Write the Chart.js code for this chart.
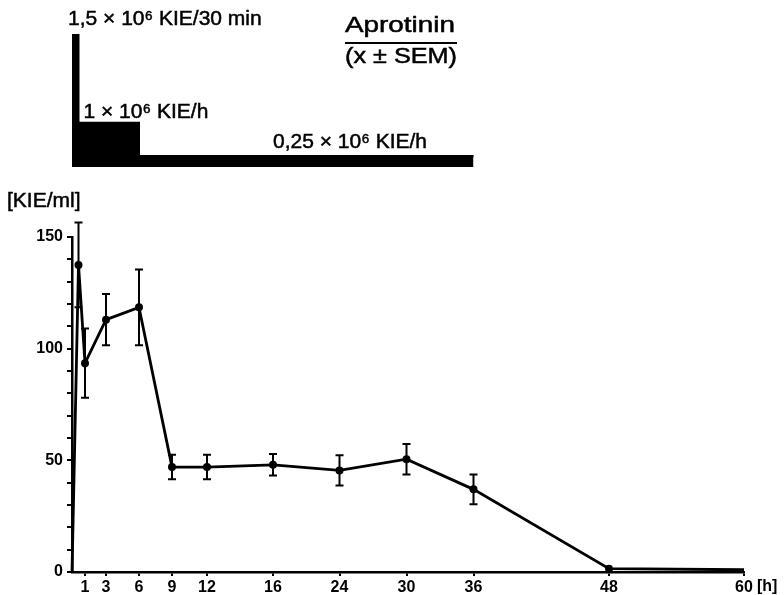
<!DOCTYPE html>
<html>
<head>
<meta charset="utf-8">
<script src="https://cdn.jsdelivr.net/npm/chart.js@4/dist/chart.umd.min.js"></script>
<style>
body { margin: 0; background: #fff; }
#wrap { position: relative; width: 784px; height: 595px; }
canvas { position: absolute; left: 0; top: 0; }
</style>
</head>
<body>
<div id="wrap">
  <canvas id="dose" width="784" height="595"></canvas>
  <canvas id="level" width="784" height="595"></canvas>
</div>
<script>
// plasma level (KIE/ml, mean +- SEM) over time in hours
const HOURS = [0, 0.5, 1, 3, 6, 9, 12, 16, 24, 30, 36, 48, 60];
const KIE_ML = [0, 137.5, 93.5, 113, 118.5, 47, 47, 48, 45.5, 50.5, 37, 1.5, 1];
const SEM = [0, 19, 15.5, 11.5, 17, 5.5, 5.5, 4.8, 6.8, 6.8, 6.7, 0, 0];
const X_TICKS = [1, 3, 6, 9, 12, 16, 24, 30, 36, 48, 60];

// dosing schedule: rate (10^6 KIE/h) starting at each hour, last point = end
const DOSE_START = [0, 0.5, 6, 36];
const DOSE_RATE = [3, 1, 0.25, 0.25];
const DOSE_LABELS = ['1,5 × 10⁶ KIE/30 min', '1 × 10⁶ KIE/h', '0,25 × 10⁶ KIE/h'];

// the printed time axis is not linear: relative spacing of its ticks
const AXIS_HOURS = [0, 1, 3, 6, 9, 12, 16, 24, 30, 36, 48, 60];
const AXIS_POS = [0, 13, 34, 67, 100, 135, 201, 267.5, 334.5, 401.5, 537, 672];

const TEXT_FONT = '"Liberation Sans", Arial, sans-serif';
const TICK_FONT = { family: '"Liberation Sans", Arial, sans-serif', size: 16, weight: 'bold' };

class PiecewiseScale extends Chart.LinearScale {
    static id = 'piecewise';
    static defaults = {};

    getPixelForValue(value) {
        if (value === null || isNaN(value)) return NaN;
        const hs = this.options.breaks, ps = this.options.positions;
        let i = 1;
        while (i < hs.length - 1 && value > hs[i]) i++;
        const t = (value - hs[i - 1]) / (hs[i] - hs[i - 1]);
        const p = ps[i - 1] + t * (ps[i] - ps[i - 1]);
        return this.getPixelForDecimal(p / ps[ps.length - 1]);
    }

    getValueForPixel(pixel) {
        const hs = this.options.breaks, ps = this.options.positions;
        const p = this.getDecimalForPixel(pixel) * ps[ps.length - 1];
        let i = 1;
        while (i < ps.length - 1 && p > ps[i]) i++;
        const t = (p - ps[i - 1]) / (ps[i] - ps[i - 1]);
        return hs[i - 1] + t * (hs[i] - hs[i - 1]);
    }

    buildTicks() {
        return this.options.tickValues.map(v => ({ value: v }));
    }
}
Chart.register(PiecewiseScale);

function timeAxis(show) {
    return {
        type: 'piecewise',
        min: 0,
        max: 60,
        breaks: AXIS_HOURS,
        positions: AXIS_POS,
        tickValues: X_TICKS,
        display: show,
        afterFit: s => { if (show) s.height = 23; },
        border: { display: true, color: '#000', width: 2.5 },
        grid: { drawOnChartArea: false, tickLength: 4, color: '#000', lineWidth: 2 },
        ticks: {
            callback: v => String(v),
            autoSkip: false,
            maxRotation: 0,
            padding: 2,
            color: '#000',
            font: TICK_FONT,
        },
    };
}

// text slightly heavier than the regular face, like the printed original
function boldishText(ctx, text, x, y) {
    ctx.fillText(text, x, y);
    ctx.strokeText(text, x, y);
}

function stretchText(ctx, text, cx, y, width) {
    const w = ctx.measureText(text).width;
    ctx.save();
    ctx.translate(cx, y);
    ctx.scale(width / w, 1);
    ctx.textAlign = 'center';
    boldishText(ctx, text, 0, 0);
    ctx.restore();
}

const doseText = {
    id: 'doseText',
    afterDraw(chart) {
        const { ctx, scales: { x, y } } = chart;
        ctx.save();
        ctx.fillStyle = '#000';
        ctx.strokeStyle = '#000';
        ctx.lineWidth = 0.5;
        ctx.textBaseline = 'alphabetic';
        ctx.font = '21px ' + TEXT_FONT;
        ctx.textAlign = 'left';
        boldishText(ctx, DOSE_LABELS[0], x.getPixelForValue(DOSE_START[0]) - 4, y.getPixelForValue(DOSE_RATE[0]) - 9);
        boldishText(ctx, DOSE_LABELS[1], x.getPixelForValue(DOSE_START[1]) + 5, y.getPixelForValue(DOSE_RATE[1]) - 5);
        boldishText(ctx, DOSE_LABELS[2], 273, y.getPixelForValue(DOSE_RATE[2]) - 8);

        // title as a fraction
        ctx.font = '22px ' + TEXT_FONT;
        ctx.lineWidth = 0.5;
        stretchText(ctx, 'Aprotinin', 400, 31.5, 110);
        stretchText(ctx, '(x ± SEM)', 401, 63, 112);
        ctx.lineWidth = 2;
        ctx.beginPath();
        ctx.moveTo(345, 43);
        ctx.lineTo(457, 43);
        ctx.stroke();
        ctx.restore();
    },
};

new Chart(document.getElementById('dose'), {
    type: 'line',
    data: {
        datasets: [{
            data: DOSE_START.map((h, i) => ({ x: h, y: DOSE_RATE[i] })),
            stepped: 'before',
            fill: 'origin',
            backgroundColor: '#000',
            borderColor: '#000',
            borderWidth: 2,
            pointRadius: 0,
        }],
    },
    options: {
        responsive: false,
        animation: false,
        layout: { padding: { left: 72, right: 40, top: 34, bottom: 428 } },
        plugins: { legend: { display: false }, tooltip: { enabled: false } },
        scales: {
            x: timeAxis(false),
            y: { display: false, min: 0, max: 3 },
        },
    },
    plugins: [doseText],
});

const errorBars = {
    id: 'errorBars',
    afterDatasetsDraw(chart) {
        const { ctx, scales: { x, y } } = chart;
        ctx.save();
        ctx.strokeStyle = '#000';
        ctx.lineWidth = 2;
        HOURS.forEach((h, i) => {
            if (!SEM[i]) return;
            const px = x.getPixelForValue(h);
            const top = y.getPixelForValue(KIE_ML[i] + SEM[i]);
            const bot = y.getPixelForValue(KIE_ML[i] - SEM[i]);
            ctx.beginPath();
            ctx.moveTo(px, top);
            ctx.lineTo(px, bot);
            ctx.moveTo(px - 4, top);
            ctx.lineTo(px + 4, top);
            ctx.moveTo(px - 4, bot);
            ctx.lineTo(px + 4, bot);
            ctx.stroke();
        });
        ctx.restore();
    },
};

const axisText = {
    id: 'axisText',
    afterDraw(chart) {
        const { ctx, scales: { x } } = chart;
        ctx.save();
        ctx.fillStyle = '#000';
        ctx.strokeStyle = '#000';
        ctx.lineWidth = 0.5;
        ctx.textBaseline = 'alphabetic';
        ctx.textAlign = 'left';
        ctx.font = '21px ' + TEXT_FONT;
        boldishText(ctx, '[KIE/ml]', 7, 207);
        ctx.font = 'bold 16px ' + TICK_FONT.family;
        ctx.fillText('[h]', x.getPixelForValue(60) + 13, 591);
        ctx.restore();
    },
};

new Chart(document.getElementById('level'), {
    type: 'line',
    data: {
        datasets: [{
            data: HOURS.map((h, i) => ({ x: h, y: KIE_ML[i] })),
            borderColor: '#000',
            borderWidth: 2.8,
            pointRadius: c => (c.dataIndex === 0 || c.dataIndex === HOURS.length - 1) ? 0 : 4,
            pointBackgroundColor: '#000',
            pointBorderWidth: 0,
            tension: 0,
            clip: false,
        }],
    },
    options: {
        responsive: false,
        animation: false,
        layout: { padding: { left: 0, right: 40, top: 237, bottom: 0 } },
        plugins: { legend: { display: false }, tooltip: { enabled: false } },
        scales: {
            x: timeAxis(true),
            y: {
                min: 0,
                max: 150,
                afterFit: s => { s.width = 72; },
                border: { display: true, color: '#000', width: 2.5 },
                grid: { drawOnChartArea: false, tickLength: 5, color: '#000', lineWidth: 2 },
                ticks: {
                    stepSize: 10,
                    autoSkip: false,
                    padding: 4,
                    color: '#000',
                    font: TICK_FONT,
                    callback: v => (v % 50 === 0 ? String(v) : ''),
                },
            },
        },
    },
    plugins: [errorBars, axisText],
});
</script>
</body>
</html>
